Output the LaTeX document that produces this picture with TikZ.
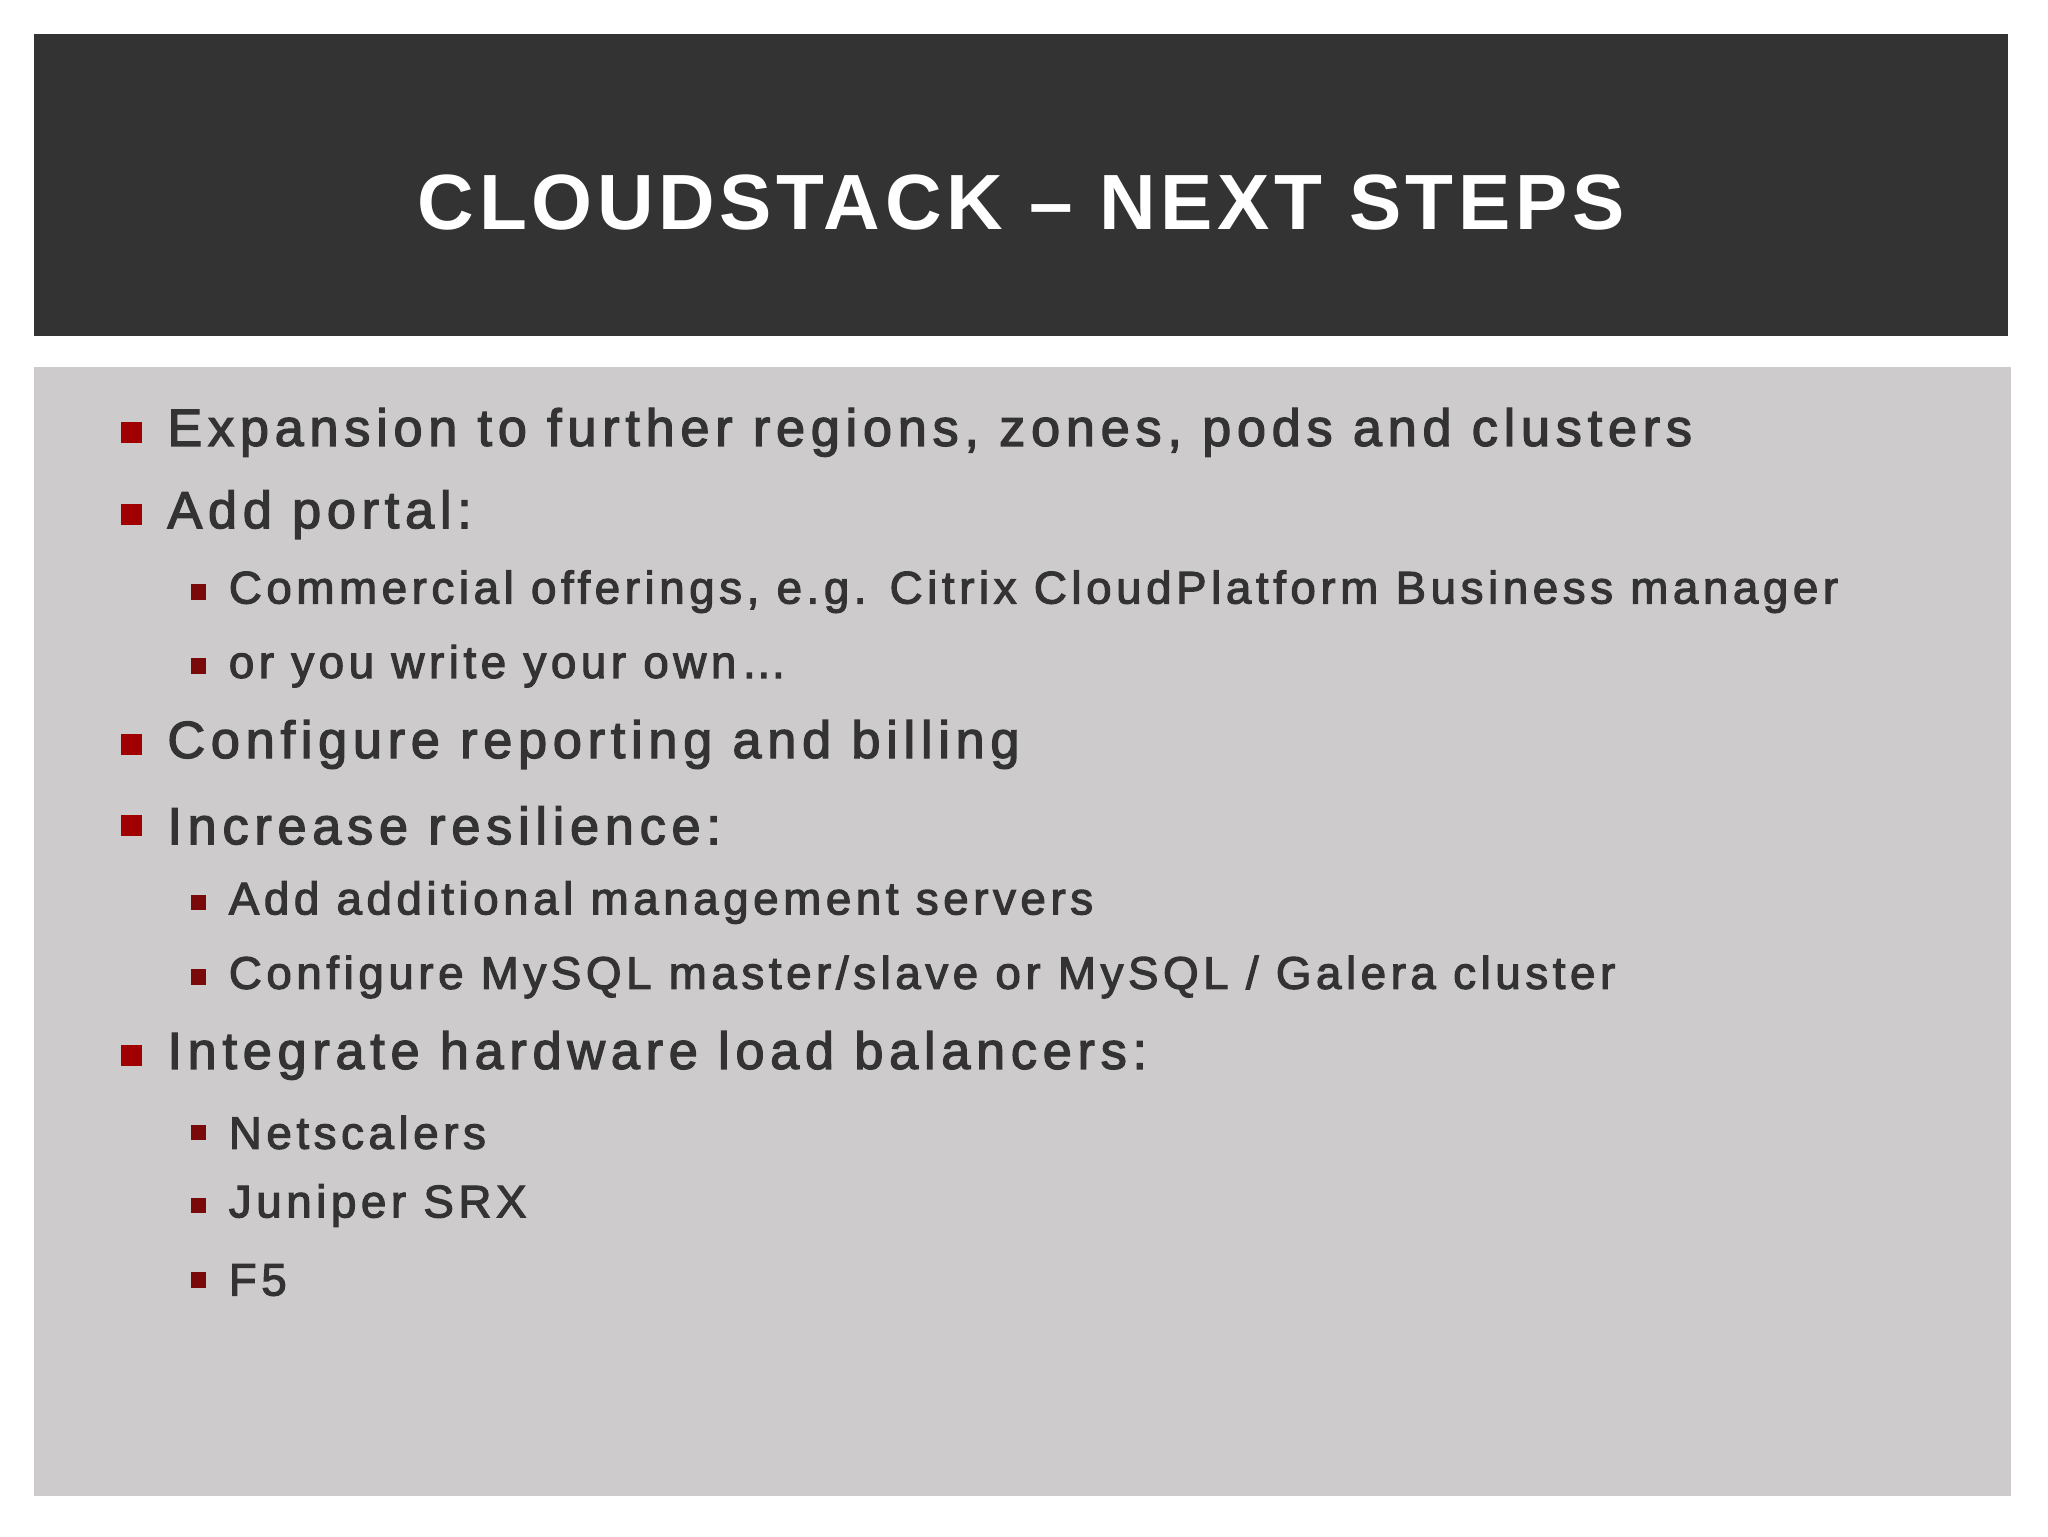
\documentclass[tikz,border=0pt]{standalone}
\usepackage{fontspec}
\setmainfont{Liberation Sans}
\newfontfamily\titlefont[LetterSpace=6]{Liberation Sans Bold}
\newfontfamily\bodyfont[LetterSpace=11,FakeBold=2.5]{Liberation Sans}
\newfontfamily\subfont[LetterSpace=10,FakeBold=2.5]{Liberation Sans}
\definecolor{hdr}{HTML}{333333}
\definecolor{panel}{HTML}{CDCBCC}
\definecolor{txt}{HTML}{333333}
\definecolor{bred}{HTML}{A00000}
\definecolor{sred}{HTML}{7A0A0A}
\tikzset{
 lone/.style={anchor=west,text=txt,inner sep=0pt,font=\bodyfont\fontsize{40}{44}\selectfont},
 ltwo/.style={anchor=west,text=txt,inner sep=0pt,font=\subfont\fontsize{35}{40}\selectfont},
}
\begin{document}
\begin{tikzpicture}[x=1pt,y=-1pt]
\useasboundingbox (0,0) rectangle (1568,1176);
\fill[white] (0,0) rectangle (1568,1176);
\fill[hdr] (26,26) rectangle (1537,257);
\fill[panel] (26,281) rectangle (1540,1145);
\node[text=white,font=\titlefont\fontsize{60}{66}\selectfont] (title) at (782,155) {CLOUDSTACK – NEXT STEPS};
\foreach \y/\t [count=\i] in {331/{Expansion to further regions, zones, pods and clusters},394/{Add portal:},570/{Configure reporting and billing},632/{Increase resilience:},808/{Integrate hardware load balancers:}}{
 \fill[bred] (93,\y-8) rectangle (109,\y+8);
 \node[lone] (a\i) at (128,\y) {\t};
}
\foreach \y/\t [count=\i] in {453/{Commercial offerings, e.g. Citrix CloudPlatform Business manager},510/{or you write your own…},691/{Add additional management servers},748/{Configure MySQL master/slave or MySQL / Galera cluster},867/{Netscalers},923/{Juniper SRX},980/{F5}}{
 \fill[sred] (146,\y-6) rectangle (158,\y+6);
 \node[ltwo] (b\i) at (175,\y) {\t};
}
\end{tikzpicture}
\end{document}
